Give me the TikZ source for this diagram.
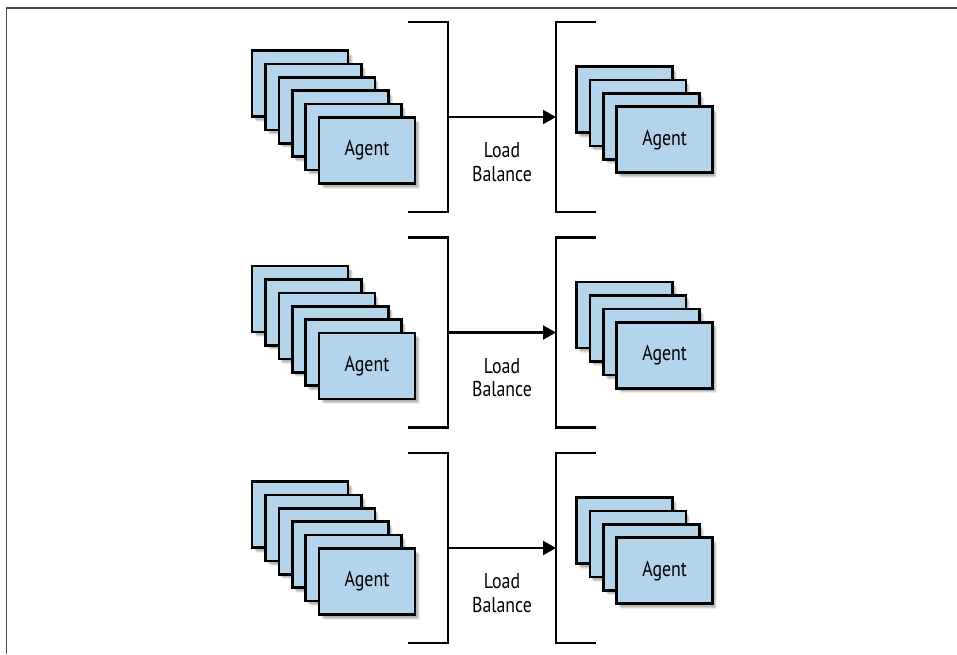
\documentclass[tikz,border=0pt]{standalone}
\usepackage{fontspec}
\newfontfamily\agentfont[FakeStretch=0.83]{PT Sans}
\usetikzlibrary{arrows.meta,shadows}
\definecolor{agentblue}{HTML}{B3D4EA}
\definecolor{framegray}{HTML}{4A4A4A}

\begin{document}
\begin{tikzpicture}[x=1pt,y=-1pt]
\tikzset{
    agent/.style={rectangle,draw,line width=2.6pt,fill=agentblue,
      minimum width=96pt,minimum height=66pt,inner sep=0pt,
      drop shadow={shadow xshift=4.5pt,shadow yshift=-5pt,fill=black,opacity=0.07},
      drop shadow={shadow xshift=3.5pt,shadow yshift=-4pt,fill=black,opacity=0.1},
      drop shadow={shadow xshift=2.5pt,shadow yshift=-3pt,fill=black,opacity=0.14},
      font=\agentfont\fontsize{21.5}{24}\selectfont},
    bracket/.style={line width=2.4pt},
    edge/.style={-{Triangle[length=13pt,width=14pt]},line width=2.2pt},
    balance/.style={align=center,font=\agentfont\fontsize{21.5}{23.5}\selectfont}
}
\useasboundingbox (0,0) rectangle (957,654);
% frame
\draw[framegray,line width=1.6pt] (6.5,654) -- (6.5,8) -- (957,8);
\foreach \r in {0,1,2}{
  \pgfmathsetmacro\ay{117+215.5*\r}
  % agents before
  \foreach \k in {0,...,4}
    \node[agent] (in\r-\k) at (300+13.4*\k,\ay-33.5+13.4*\k) {};
  \node[agent] (in\r-5) at (367,\ay+33.5) {Agent};
  % agents after
  \foreach \k in {0,1,2}
    \node[agent] (out\r-\k) at (624.5+13.4*\k,\ay-17.5+13.4*\k) {};
  \node[agent] (out\r-3) at (664.7,\ay+22.7) {Agent};
  % brackets
  \coordinate (lb\r) at (448,\ay);
  \coordinate (rb\r) at (556,\ay);
  \draw[bracket] (408,\ay-95) -| (lb\r) |- (408,\ay+95);
  \draw[bracket] (596,\ay-95) -| (rb\r) |- (596,\ay+95);
  % edge
  \draw[edge] (lb\r) -- (rb\r);
  \node[balance] (lb\r-text) at (502,\ay+45) {Load\\Balance};
}
\end{tikzpicture}
\end{document}
